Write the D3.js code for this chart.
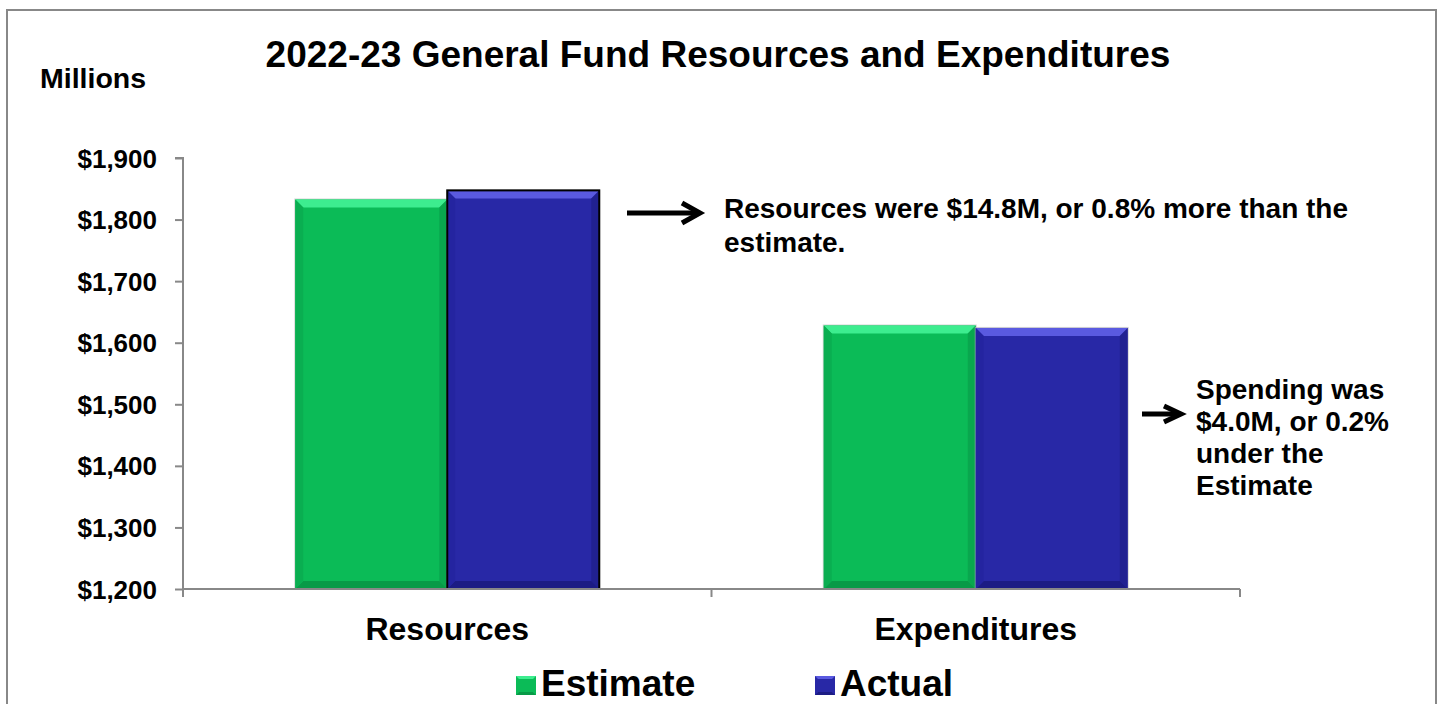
<!DOCTYPE html>
<html><head><meta charset="utf-8">
<script src="https://cdn.jsdelivr.net/npm/d3@7"></script>
<style>
html,body{margin:0;padding:0;background:#fff;}
svg{display:block;font-family:"Liberation Sans",Arial,sans-serif;font-weight:bold;}
</style></head>
<body>
<svg id="c" width="1440" height="704"></svg>
<script>
const categories = ["Resources", "Expenditures"];
const seriesNames = ["Estimate", "Actual"];
const estimateValues = [1832.6, 1628.0];
const actualValues = [1847.4, 1624.0];
const yTicks = [1200, 1300, 1400, 1500, 1600, 1700, 1800, 1900];
const title = "2022-23 General Fund Resources and Expenditures";
const annotations = [
  ["Resources were $14.8M, or 0.8% more than the", "estimate."],
  ["Spending was", "$4.0M, or 0.2%", "under the", "Estimate"]
];

const svg = d3.select("#c");
const FONT = "Liberation Sans, Arial, sans-serif";
const colors = {
  Estimate: {main: "#0bbb57", light: "#3ded8f", dark: "#089a47", side: "#0aae51"},
  Actual: {main: "#2828a6", light: "#5a5ae0", dark: "#1c1c84", side: "#2424a0"}
};

// frame
svg.append("rect").attr("x", 7).attr("y", 10).attr("width", 1429).attr("height", 710)
  .attr("fill", "none").attr("stroke", "#888").attr("stroke-width", 2);

const x0 = d3.scaleBand().domain(categories).range([183, 1240]).paddingInner(0).paddingOuter(0);
const x1 = d3.scaleBand().domain(seriesNames).range([0, 304]);
const groupOffset = (x0.bandwidth() - 304) / 2;
const y = d3.scaleLinear().domain([1200, 1900]).range([589, 158]);

// axes
const yAxis = d3.axisLeft(y).tickValues(yTicks).tickSize(8).tickFormat(d => "$" + d3.format(",")(d));
const gy = svg.append("g").attr("transform", "translate(183,0)").call(yAxis);
gy.select(".domain").attr("stroke", "#888").attr("stroke-width", 2).attr("d", "M-8,158H0V589");
gy.selectAll(".tick line").attr("stroke", "#888").attr("stroke-width", 2);
gy.selectAll(".tick text").attr("x", -26).attr("dy", "0.35em").attr("fill", "#000")
  .style("font-size", "26px").style("font-family", FONT).style("font-weight", "bold");

const data = categories.map((c, i) => ({cat: c, values: [
  {name: "Estimate", v: estimateValues[i]}, {name: "Actual", v: actualValues[i]}]}));

const bev = 8;
data.forEach((d, ci) => {
  const g = svg.append("g");
  d.values.forEach(s => {
    const bx = x0(d.cat) + groupOffset + x1(s.name);
    const bw = x1.bandwidth();
    const top = y(s.v), bot = y(1200);
    const col = colors[s.name];
    g.append("rect").attr("x", bx - 1).attr("y", top - 1).attr("width", bw + 2).attr("height", bot - top + 1)
      .attr("fill", "#bbb").attr("opacity", 0.6);
    g.append("rect").attr("x", bx).attr("y", top).attr("width", bw).attr("height", bot - top).attr("fill", col.main);
    g.append("polygon").attr("points", [[bx, top], [bx + bw, top], [bx + bw - bev, top + bev], [bx + bev, top + bev]].join(" "))
      .attr("fill", col.light);
    g.append("polygon").attr("points", [[bx, bot], [bx + bw, bot], [bx + bw - bev, bot - bev], [bx + bev, bot - bev]].join(" "))
      .attr("fill", col.dark);
    g.append("polygon").attr("points", [[bx, top], [bx + bev, top + bev], [bx + bev, bot - bev], [bx, bot]].join(" "))
      .attr("fill", col.side);
    g.append("polygon").attr("points", [[bx + bw, top], [bx + bw - bev, top + bev], [bx + bw - bev, bot - bev], [bx + bw, bot]].join(" "))
      .attr("fill", col.dark).attr("opacity", 0.6);
    if (ci === 0 && s.name === "Actual") {
      g.append("rect").attr("x", bx).attr("y", top).attr("width", bw).attr("height", bot - top)
        .attr("fill", "none").attr("stroke", "#000").attr("stroke-width", 2);
    }
  });
});

// x axis
const xAxis = d3.axisBottom(x0).tickSize(0);
const gx = svg.append("g").attr("transform", "translate(0,589)").call(xAxis);
gx.select(".domain").attr("stroke", "#888").attr("stroke-width", 2).attr("d", "M183,0H1240");
gx.selectAll(".tick text").attr("y", 51).attr("dy", 0).attr("fill", "#000")
  .style("font-size", "32px").style("font-family", FONT).style("font-weight", "bold");
[183, 711.5, 1240].forEach(xx => gx.append("line").attr("x1", xx).attr("x2", xx).attr("y1", 0).attr("y2", 8)
  .attr("stroke", "#888").attr("stroke-width", 2));

// title
svg.append("text").attr("x", 718).attr("y", 67).attr("text-anchor", "middle").style("font-size", "37px").text(title);
svg.append("text").attr("x", 40).attr("y", 88).style("font-size", "28.5px").text("Millions");

// annotations
const ann1 = svg.append("text").style("font-size", "28px");
annotations[0].forEach((t, i) => ann1.append("tspan").attr("x", 724).attr("y", 218 + i * 34).text(t));
const ann2 = svg.append("text").style("font-size", "28px");
annotations[1].forEach((t, i) => ann2.append("tspan").attr("x", 1196).attr("y", 399 + i * 32).text(t));

// arrows
function arrow(x1a, x2a, yy, hl, hh) {
  svg.append("line").attr("x1", x1a).attr("x2", x2a - 4).attr("y1", yy).attr("y2", yy).attr("stroke", "#000").attr("stroke-width", 5);
  svg.append("path").attr("d", `M${x2a - hl},${yy - hh} L${x2a - 2},${yy} L${x2a - hl},${yy + hh}`)
    .attr("fill", "none").attr("stroke", "#000").attr("stroke-width", 5).attr("stroke-linejoin", "miter");
}
arrow(627, 702, 213, 20, 10);
arrow(1142, 1183, 414, 19, 8);

// legend
const legend = [{name: "Estimate", x: 516, tx: 541}, {name: "Actual", x: 815, tx: 840}];
legend.forEach(l => {
  const col = colors[l.name];
  const sx = l.x, sy = 676, s = 20;
  svg.append("rect").attr("x", sx).attr("y", sy).attr("width", s).attr("height", s - 1).attr("fill", col.main);
  svg.append("polygon").attr("points", [[sx, sy], [sx + s, sy], [sx + s / 2, sy + s / 2]].join(" ")).attr("fill", col.light);
  svg.append("polygon").attr("points", [[sx, sy + s - 1], [sx + s, sy + s - 1], [sx + s / 2, sy + s / 2]].join(" ")).attr("fill", col.dark);
  svg.append("rect").attr("x", sx + 3).attr("y", sy + 3).attr("width", s - 6).attr("height", s - 7).attr("fill", col.main);
  svg.append("text").attr("x", l.tx).attr("y", 696).style("font-size", "37px").text(l.name);
});
</script>
</body></html>
